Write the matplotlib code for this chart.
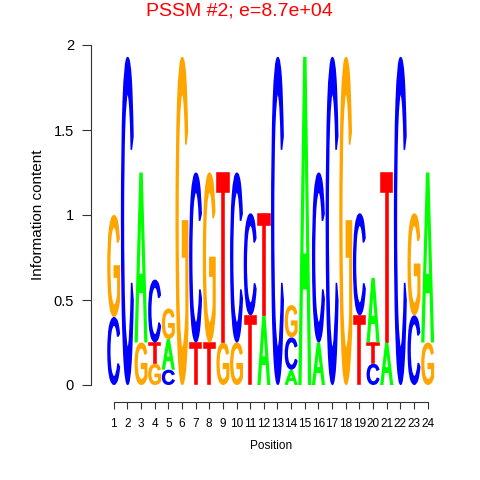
import matplotlib
matplotlib.use("Agg")
import matplotlib.pyplot as plt
from matplotlib.textpath import TextPath
from matplotlib.font_manager import FontProperties
from matplotlib.patches import PathPatch
from matplotlib.path import Path
import numpy as np

positions = list(range(1, 25))
letters = ["A", "C", "G", "T"]
A_h = [0, 0, 1.0, 0, 0.18, 0, 0, 0, 0, 0, 0, 0.41, 0, 0.09, 1.93, 0.25, 0, 0, 0, 0.38, 0.25, 0, 0, 1.0]
C_h = [0.40, 1.93, 0, 0.37, 0.09, 0, 1.0, 0, 0, 1.0, 0.6, 0, 1.93, 0.19, 0, 1.0, 1.93, 0, 0.6, 0.125, 0, 1.93, 0.41, 0]
G_h = [0.60, 0, 0.25, 0.125, 0.18, 1.93, 0, 1.0, 0.25, 0.25, 0, 0, 0, 0.19, 0, 0, 0, 1.93, 0, 0, 0, 0, 0.6, 0.25]
T_h = [0, 0, 0, 0.125, 0, 0, 0.25, 0.25, 1.0, 0, 0.41, 0.6, 0, 0, 0, 0, 0, 0, 0.41, 0.125, 1.0, 0, 0, 0]
colors = {"A": "#00FF00", "C": "#0000FF", "G": "#FFA500", "T": "#FF0000"}
title = "PSSM #2; e=8.7e+04"
y_ticks = [0, 0.5, 1, 1.5, 2]
y_tick_labels = ["0", "0.5", "1", "1.5", "2"]

heights = {"A": A_h, "C": C_h, "G": G_h, "T": T_h}

W, H = 480, 480
fig = plt.figure(figsize=(4.8, 4.8), dpi=100)
L, R, T_, B = 91, 440, 45, 402
ax = fig.add_axes([L / W, 1 - B / H, (R - L) / W, (B - T_) / H])
ax.set_xlim(-0.663, 24.905)
ax.set_ylim(-0.1, 2.0)

fp = FontProperties(family="Liberation Sans", weight="normal")
glyphs = {}
for l in letters:
    tp = TextPath((0, 0), l, size=1, prop=fp)
    ext = tp.get_extents()
    glyphs[l] = (tp, ext)

stroke_px = 1.6
px_x = 1 / 13.65
px_y = 1 / 170.0

def draw_letter(l, xc, y0, h, w=0.95):
    tp, ext = glyphs[l]
    gw = w - stroke_px * px_x
    gh = max(h - stroke_px * px_y, 0.001)
    gy = y0 + stroke_px * px_y / 2
    v = tp.vertices.copy()
    v[:, 0] = (v[:, 0] - ext.x0) / ext.width * gw + (xc - gw / 2)
    v[:, 1] = (v[:, 1] - ext.y0) / ext.height * gh + gy
    p = Path(v, tp.codes)
    ax.add_patch(PathPatch(p, facecolor=colors[l], edgecolor=colors[l],
                           lw=stroke_px * 0.72, joinstyle="miter"))

for i, pos in enumerate(positions):
    stack = [(heights[l][i], l) for l in letters if heights[l][i] > 0]
    stack.sort(key=lambda t: t[0])
    y = 0.0
    for h, l in stack:
        draw_letter(l, pos, y, h)
        y += h

for s in ["top", "right"]:
    ax.spines[s].set_visible(False)
ax.spines["left"].set_bounds(0, 2)
ax.spines["bottom"].set_bounds(1, 24)
for s in ["left", "bottom"]:
    ax.spines[s].set_linewidth(0.8)
    ax.spines[s].set_color("#333333")

ax.set_xticks(positions)
ax.set_xticklabels([str(p) for p in positions], fontsize=8.5, family="Liberation Sans")
ax.set_yticks(y_ticks)
ax.set_yticklabels(y_tick_labels, fontsize=10.5, family="Liberation Sans")
ax.tick_params(axis="x", direction="out", length=5.0, width=0.8, color="#333333", pad=6.5)
ax.tick_params(axis="y", direction="out", length=6.2, width=0.8, color="#333333", pad=6.0)

fig.text(239 / W, 1 - 15 / H, title, color="#FF0000", fontsize=14, ha="center", va="baseline",
         family="Liberation Sans")
fig.text(270.7 / W, 1 - 446 / H, "Position", fontsize=8.5, ha="center", va="center",
         family="Liberation Sans")
fig.text(38 / W, 1 - 215 / H, "Information content", fontsize=11, ha="center", va="center",
         rotation=90, family="Liberation Sans")

fig.savefig("out.png", dpi=100)
